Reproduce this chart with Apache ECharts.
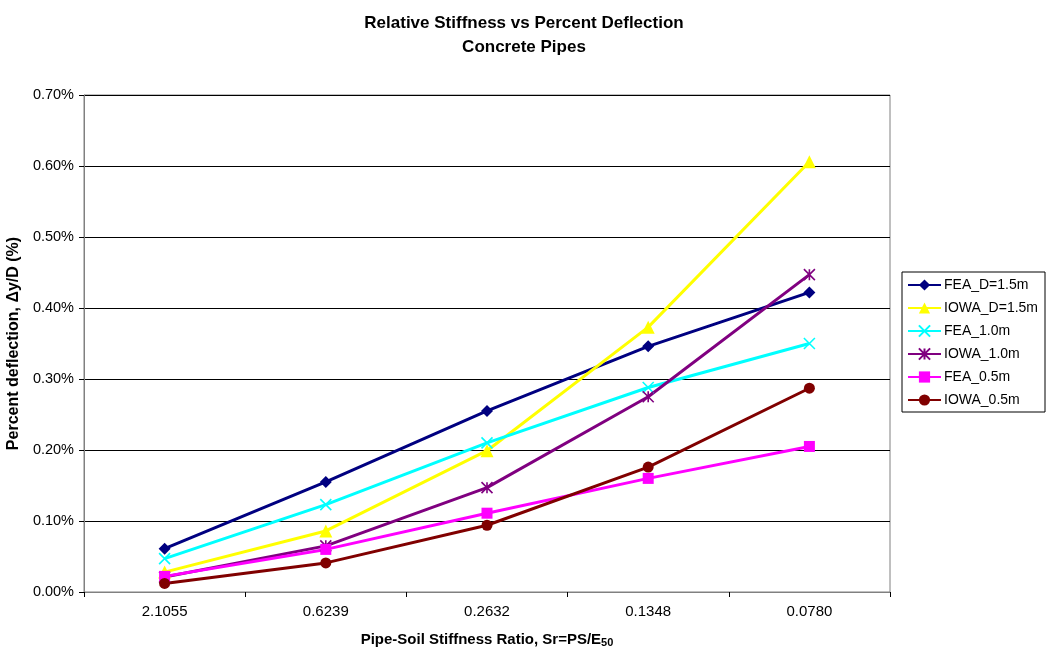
<!DOCTYPE html>
<html>
<head>
<meta charset="utf-8">
<script src="https://cdn.jsdelivr.net/npm/echarts@6/dist/echarts.min.js"></script>
<style>
  html, body { margin: 0; padding: 0; background: #fff; }
  #chart { width: 1048px; height: 655px; }
</style>
</head>
<body>
<div id="chart"></div>
<script>
// Pipe-soil stiffness ratios (category axis)
const categories = ['2.1055', '0.6239', '0.2632', '0.1348', '0.0780'];

// Percent deflection values (%)
const feaD15  = [0.061, 0.155, 0.255, 0.346, 0.422];
const iowaD15 = [0.028, 0.086, 0.199, 0.373, 0.606];
const fea10   = [0.047, 0.123, 0.210, 0.288, 0.350];
const iowa10  = [0.021, 0.065, 0.147, 0.275, 0.447];
const fea05   = [0.022, 0.060, 0.111, 0.160, 0.205];
const iowa05  = [0.012, 0.041, 0.094, 0.176, 0.287];

const yTicks = [0, 0.1, 0.2, 0.3, 0.4, 0.5, 0.6, 0.7];

const FONT = '"Liberation Sans", Arial, sans-serif';

const crossPath = 'path://M0,0 L10,10 M10,0 L0,10';
const starPath = 'path://M0,0 L10,10 M10,0 L0,10 M5,0 L5,10';

function makeSeries(name, data, color, symbol, size, stroked) {
  return {
    name: name,
    type: 'line',
    data: data,
    symbol: symbol,
    symbolSize: size,
    showAllSymbol: true,
    lineStyle: { color: color, width: 3 },
    itemStyle: stroked
      ? { color: 'transparent', borderColor: color, borderWidth: 1.6 }
      : { color: color, borderWidth: 0 },
    emphasis: { disabled: true },
    z: 2
  };
}

const chart = echarts.init(document.getElementById('chart'), null, { renderer: 'canvas' });

chart.setOption({
  animation: false,
  backgroundColor: '#ffffff',
  textStyle: { fontFamily: FONT },
  title: {
    text: 'Relative Stiffness vs Percent Deflection\nConcrete Pipes',
    left: 'center',
    top: 6,
    textStyle: { fontFamily: FONT, fontSize: 17, fontWeight: 'bold', color: '#000', lineHeight: 24 }
  },
  grid: {
    left: 84, right: 158, top: 95, bottom: 63,
    show: true, borderColor: '#808080', borderWidth: 1,
    containLabel: false,
    outerBoundsMode: 'none'
  },
  legend: {
    orient: 'vertical',
    left: 902, top: 272,
    padding: [6, 7, 5, 5],
    itemWidth: 33,
    itemHeight: 14,
    itemGap: 9,
    borderColor: '#000',
    borderWidth: 1,
    backgroundColor: '#fff',
    textStyle: { fontFamily: FONT, fontSize: 14, color: '#000', lineHeight: 14, padding: [0, 0, 0, -2] },
    data: ['FEA_D=1.5m', 'IOWA_D=1.5m', 'FEA_1.0m', 'IOWA_1.0m', 'FEA_0.5m', 'IOWA_0.5m']
  },
  xAxis: {
    type: 'category',
    data: categories,
    boundaryGap: true,
    name: 'Pipe-Soil Stiffness Ratio, Sr=PS/E{sub|50}',
    nameLocation: 'middle',
    nameGap: 40,
    nameTextStyle: {
      fontFamily: FONT, fontSize: 15, fontWeight: 'bold', color: '#000',
      rich: { sub: { fontFamily: FONT, fontSize: 11, fontWeight: 'bold', color: '#000', padding: [5, 0, 0, 0] } }
    },
    axisLine: { lineStyle: { color: '#808080', width: 1 } },
    axisTick: { show: true, length: 5, lineStyle: { color: '#000' } },
    axisLabel: { fontFamily: FONT, fontSize: 15, color: '#000', margin: 12 },
    splitLine: { show: false }
  },
  yAxis: {
    type: 'value',
    min: 0, max: 0.7, interval: 0.1,
    name: 'Percent deflection, \u0394y/D (%)',
    nameLocation: 'middle',
    nameGap: 56,
    nameTextStyle: { fontFamily: FONT, fontSize: 16, fontWeight: 'bold', color: '#000' },
    axisLine: { show: true, lineStyle: { color: '#808080', width: 1 } },
    axisTick: { show: true, length: 5, lineStyle: { color: '#000' } },
    axisLabel: {
      fontFamily: FONT, fontSize: 14.5, color: '#000', margin: 10,
      formatter: function (v) {
        const t = yTicks.find(function (k) { return Math.abs(k - v) < 1e-9; });
        return (t !== undefined ? t : v).toFixed(2) + '%';
      }
    },
    splitLine: { show: true, lineStyle: { color: '#000', width: 1 } }
  },
  series: [
    makeSeries('FEA_D=1.5m', feaD15, '#000080', 'diamond', 12, false),
    makeSeries('IOWA_D=1.5m', iowaD15, '#FFFF00', 'triangle', 13, false),
    makeSeries('FEA_1.0m', fea10, '#00FFFF', crossPath, 11, true),
    makeSeries('IOWA_1.0m', iowa10, '#800080', starPath, 11, true),
    makeSeries('FEA_0.5m', fea05, '#FF00FF', 'rect', 11, false),
    makeSeries('IOWA_0.5m', iowa05, '#800000', 'circle', 11, false)
  ]
});
</script>
</body>
</html>
